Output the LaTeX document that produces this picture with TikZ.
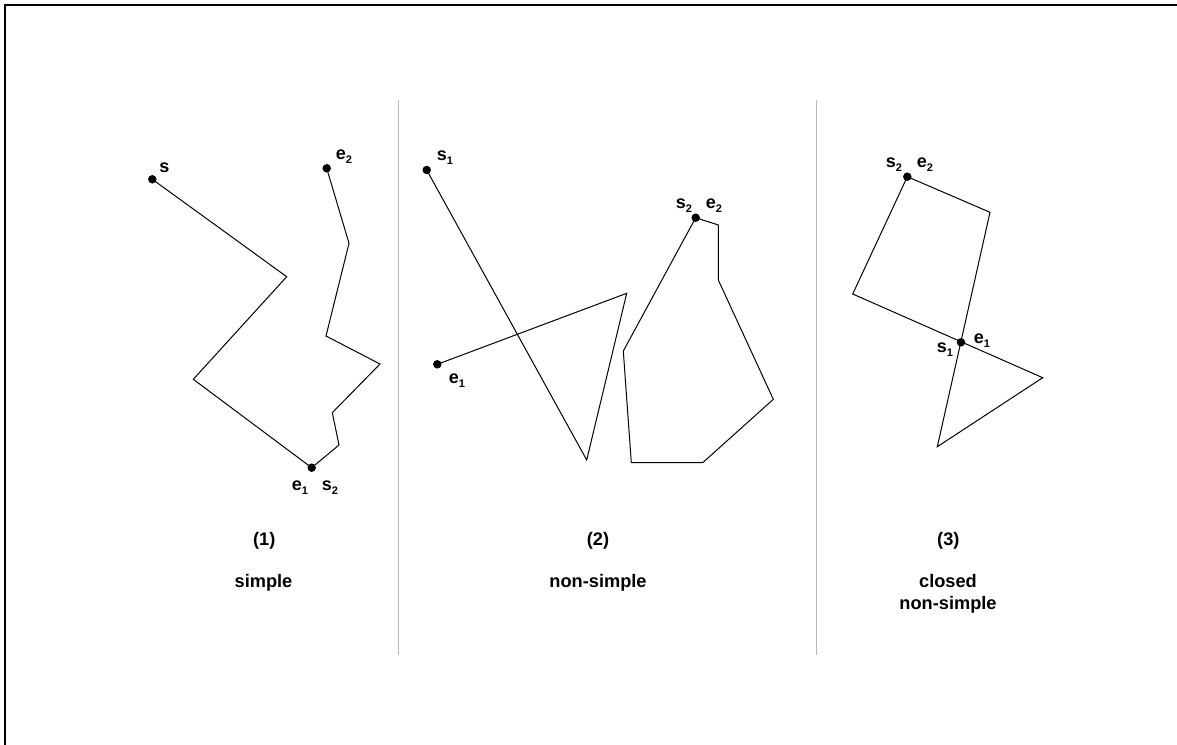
\documentclass[tikz,border=0pt]{standalone}
\usepackage{fontspec}
\setmainfont{Liberation Sans}
\begin{document}
\begin{tikzpicture}[x=1pt,y=-1pt,
  poly/.style={draw=black,line width=1pt,line join=miter},
  dotn/.style={circle,fill=black,inner sep=0pt,minimum size=8.5pt},
  lbl/.style={font=\fontsize{18}{18}\selectfont\bfseries,inner sep=0pt},
  captxt/.style={font=\fontsize{18.2}{22}\selectfont\bfseries,inner sep=0pt,align=center},
  sepline/.style={draw={rgb,255:red,185;green,185;blue,185},line width=1pt}]
\newcommand{\sbx}[2]{#1\raisebox{-0.4ex}{\fontsize{11}{11}\selectfont #2}}
\useasboundingbox (0,0) rectangle (1177,744);
\clip (0,0) rectangle (1177,744);
% frame
\coordinate (fa) at (5,760);
\coordinate (fb) at (5,5);
\coordinate (fc) at (1190,5);
\draw[line width=2pt] (fa) -- (fb) -- (fc);
% separators
\coordinate (v1a) at (398,100); \coordinate (v1b) at (398,655);
\coordinate (v2a) at (816,100); \coordinate (v2b) at (816,655);
\draw[sepline] (v1a) -- (v1b);
\draw[sepline] (v2a) -- (v2b);

% ---------- (1) simple ----------
\coordinate (a0) at (152.3,179.3);
\coordinate (a1) at (286.7,276.7);
\coordinate (a2) at (193.3,379.3);
\coordinate (a3) at (311.7,467.7);
\coordinate (a4) at (339.0,445.0);
\coordinate (a5) at (332.3,412.7);
\coordinate (a6) at (380.0,364.0);
\coordinate (a7) at (326.0,336.0);
\coordinate (a8) at (349.0,243.3);
\coordinate (a9) at (326.7,168.3);
\draw[poly] (a0) -- (a1) -- (a2) -- (a3) -- (a4) -- (a5) -- (a6) -- (a7) -- (a8) -- (a9);
\node[dotn] (d1s) at (a0) {};
\node[dotn] (d1m) at (a3) {};
\node[dotn] (d1e) at (a9) {};
\node[lbl] (l1s) at (164.5,168) {s};
\node[lbl] (l1e2) at (344,157) {\sbx{e}{2}};
\node[lbl] (l1e1) at (300,488) {\sbx{e}{1}};
\node[lbl] (l1s2) at (330,488) {\sbx{s}{2}};

% ---------- (2) non-simple ----------
\coordinate (b0) at (426.7,170.0);
\coordinate (b1) at (586.7,460.0);
\coordinate (b2) at (626.7,293.3);
\coordinate (b3) at (437.3,364.3);
\draw[poly] (b0) -- (b1) -- (b2) -- (b3);
\coordinate (c0) at (695.7,217.7);
\coordinate (c1) at (718.3,225.0);
\coordinate (c2) at (718.3,280.0);
\coordinate (c3) at (773.3,399.3);
\coordinate (c4) at (702.7,462.7);
\coordinate (c5) at (631.3,462.7);
\coordinate (c6) at (623.3,351.0);
\draw[poly] (c0) -- (c1) -- (c2) -- (c3) -- (c4) -- (c5) -- (c6) -- cycle;
\node[dotn] (d2s) at (b0) {};
\node[dotn] (d2e) at (b3) {};
\node[dotn] (d2c) at (c0) {};
\node[lbl] (l2s1) at (445,158) {\sbx{s}{1}};
\node[lbl] (l2e1) at (457,381) {\sbx{e}{1}};
\node[lbl] (l2s2) at (684,206) {\sbx{s}{2}};
\node[lbl] (l2e2) at (714,206) {\sbx{e}{2}};

% ---------- (3) closed non-simple ----------
\coordinate (p0) at (907.3,176.7);
\coordinate (p1) at (990.0,212.3);
\coordinate (p2) at (937.3,446.7);
\coordinate (p3) at (1042.7,377.7);
\coordinate (p4) at (852.7,294.0);
\coordinate (px) at (961.0,342.3);
\draw[poly] (p0) -- (p1) -- (p2) -- (p3) -- (p4) -- cycle;
\node[dotn] (d3t) at (p0) {};
\node[dotn] (d3x) at (px) {};
\node[lbl] (l3s2) at (894,165) {\sbx{s}{2}};
\node[lbl] (l3e2) at (925,165) {\sbx{e}{2}};
\node[lbl] (l3e1) at (982,341) {\sbx{e}{1}};
\node[lbl] (l3s1) at (945,350) {\sbx{s}{1}};

% captions
\node[captxt] (k1) at (264.3,541) {(1)};
\node[captxt] (t1) at (263.5,583) {simple};
\node[captxt] (k2) at (598,541) {(2)};
\node[captxt] (t2) at (598,583) {non-simple};
\node[captxt] (k3) at (948.3,541) {(3)};
\node[captxt] (t3) at (948,594) {closed\\non-simple};
\end{tikzpicture}
\end{document}
